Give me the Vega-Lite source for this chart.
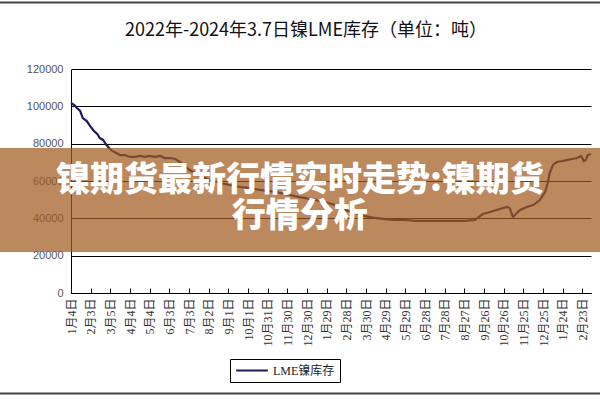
{
  "$schema": "https://vega.github.io/schema/vega-lite/v6.json",
  "width": 520,
  "height": 224,
  "autosize": "none",
  "padding": {"left": 71, "top": 69, "right": 9, "bottom": 107},
  "background": "white",
  "title": {"text": "2022年-2024年3.7日镍LME库存（单位：吨）", "font": "Noto Sans CJK SC", "fontSize": 18, "fontWeight": "normal", "color": "#111111", "anchor": "middle", "frame": "group", "offset": -38, "dx": -25},
  "config": {"view": {"stroke": null}},
  "datasets": {
    "stock": [
      {"date": "2022-01-04", "value": 101800},
      {"date": "2022-01-09", "value": 100700},
      {"date": "2022-01-13", "value": 99100},
      {"date": "2022-01-18", "value": 97500},
      {"date": "2022-01-22", "value": 93700},
      {"date": "2022-01-28", "value": 92100},
      {"date": "2022-02-02", "value": 89500},
      {"date": "2022-02-08", "value": 86800},
      {"date": "2022-02-13", "value": 85200},
      {"date": "2022-02-17", "value": 83000},
      {"date": "2022-02-22", "value": 82000},
      {"date": "2022-02-26", "value": 79800},
      {"date": "2022-03-03", "value": 77700},
      {"date": "2022-03-08", "value": 76100},
      {"date": "2022-03-14", "value": 75000},
      {"date": "2022-03-20", "value": 73900},
      {"date": "2022-03-27", "value": 73900},
      {"date": "2022-04-04", "value": 72900},
      {"date": "2022-04-12", "value": 72900},
      {"date": "2022-04-19", "value": 73400},
      {"date": "2022-04-27", "value": 72900},
      {"date": "2022-05-04", "value": 73400},
      {"date": "2022-05-12", "value": 72900},
      {"date": "2022-05-20", "value": 73400},
      {"date": "2022-05-27", "value": 72300},
      {"date": "2022-06-04", "value": 72300},
      {"date": "2022-06-12", "value": 71800},
      {"date": "2022-06-19", "value": 70200},
      {"date": "2022-06-27", "value": 68000},
      {"date": "2022-07-04", "value": 65900},
      {"date": "2022-07-12", "value": 64300},
      {"date": "2022-07-20", "value": 62700},
      {"date": "2022-08-04", "value": 60500},
      {"date": "2022-08-19", "value": 58900},
      {"date": "2022-09-03", "value": 57900},
      {"date": "2022-09-19", "value": 56800},
      {"date": "2022-10-04", "value": 56200},
      {"date": "2022-10-19", "value": 55200},
      {"date": "2022-11-03", "value": 54600},
      {"date": "2022-11-19", "value": 53600},
      {"date": "2022-12-04", "value": 52500},
      {"date": "2022-12-19", "value": 51400},
      {"date": "2023-01-03", "value": 50400},
      {"date": "2023-01-19", "value": 49300},
      {"date": "2023-01-29", "value": 48500},
      {"date": "2023-02-11", "value": 47100},
      {"date": "2023-02-26", "value": 44500},
      {"date": "2023-03-13", "value": 42900},
      {"date": "2023-03-28", "value": 41200},
      {"date": "2023-04-13", "value": 40200},
      {"date": "2023-04-28", "value": 39600},
      {"date": "2023-05-13", "value": 39100},
      {"date": "2023-05-28", "value": 39100},
      {"date": "2023-06-13", "value": 38600},
      {"date": "2023-06-28", "value": 38600},
      {"date": "2023-07-13", "value": 38600},
      {"date": "2023-07-28", "value": 38600},
      {"date": "2023-08-13", "value": 38600},
      {"date": "2023-08-28", "value": 38600},
      {"date": "2023-09-12", "value": 39100},
      {"date": "2023-09-24", "value": 42300},
      {"date": "2023-10-05", "value": 43400},
      {"date": "2023-10-20", "value": 45000},
      {"date": "2023-10-31", "value": 46100},
      {"date": "2023-11-04", "value": 45500},
      {"date": "2023-11-09", "value": 40700},
      {"date": "2023-11-15", "value": 42900},
      {"date": "2023-11-20", "value": 44500},
      {"date": "2023-11-30", "value": 46100},
      {"date": "2023-12-10", "value": 47100},
      {"date": "2023-12-20", "value": 49800},
      {"date": "2023-12-28", "value": 54100},
      {"date": "2024-01-01", "value": 58900},
      {"date": "2024-01-04", "value": 64300},
      {"date": "2024-01-09", "value": 68600},
      {"date": "2024-01-15", "value": 70200},
      {"date": "2024-01-23", "value": 70700},
      {"date": "2024-01-30", "value": 71200},
      {"date": "2024-02-07", "value": 71800},
      {"date": "2024-02-15", "value": 72300},
      {"date": "2024-02-21", "value": 73400},
      {"date": "2024-02-25", "value": 70700},
      {"date": "2024-02-28", "value": 71200},
      {"date": "2024-03-02", "value": 73900},
      {"date": "2024-03-07", "value": 74500}
    ],
    "band": [{"date": "2021-08-01", "date2": "2024-05-01", "value": 21960, "value2": 77700}],
    "frame": [{"date": "2021-08-01", "date2": "2024-05-01", "value": 155600}, {"date": "2021-08-01", "date2": "2024-05-01", "value": -53800}],
    "banner": [{"date": "2022-12-19", "value": 60000}]
  },
  "encoding": {
    "x": {
      "field": "date", "type": "temporal",
      "scale": {"type": "utc", "domain": [{"year": 2022, "month": 1, "date": 4, "utc": true}, {"year": 2024, "month": 3, "date": 7, "utc": true}]},
      "axis": {
        "title": null,
        "values": [
          {"year": 2022, "month": 1, "date": 4, "utc": true},
          {"year": 2022, "month": 2, "date": 3, "utc": true},
          {"year": 2022, "month": 3, "date": 5, "utc": true},
          {"year": 2022, "month": 4, "date": 4, "utc": true},
          {"year": 2022, "month": 5, "date": 4, "utc": true},
          {"year": 2022, "month": 6, "date": 3, "utc": true},
          {"year": 2022, "month": 7, "date": 3, "utc": true},
          {"year": 2022, "month": 8, "date": 2, "utc": true},
          {"year": 2022, "month": 9, "date": 1, "utc": true},
          {"year": 2022, "month": 10, "date": 1, "utc": true},
          {"year": 2022, "month": 10, "date": 31, "utc": true},
          {"year": 2022, "month": 11, "date": 30, "utc": true},
          {"year": 2022, "month": 12, "date": 30, "utc": true},
          {"year": 2023, "month": 1, "date": 29, "utc": true},
          {"year": 2023, "month": 2, "date": 28, "utc": true},
          {"year": 2023, "month": 3, "date": 30, "utc": true},
          {"year": 2023, "month": 4, "date": 29, "utc": true},
          {"year": 2023, "month": 5, "date": 29, "utc": true},
          {"year": 2023, "month": 6, "date": 28, "utc": true},
          {"year": 2023, "month": 7, "date": 28, "utc": true},
          {"year": 2023, "month": 8, "date": 27, "utc": true},
          {"year": 2023, "month": 9, "date": 26, "utc": true},
          {"year": 2023, "month": 10, "date": 26, "utc": true},
          {"year": 2023, "month": 11, "date": 25, "utc": true},
          {"year": 2023, "month": 12, "date": 25, "utc": true},
          {"year": 2024, "month": 1, "date": 24, "utc": true},
          {"year": 2024, "month": 2, "date": 23, "utc": true}
        ],
        "labelExpr": "utcFormat(datum.value, '%-m月%-d日')",
        "labelAngle": 270,
        "labelFont": "Liberation Serif, Noto Sans CJK SC",
        "labelFontSize": 12,
        "labelColor": "#333333",
        "tickSize": -5,
        "tickColor": "black",
        "domainColor": "black",
        "grid": false,
        "labelPadding": 10,
        "labelOverlap": false,
        "labelBound": false,
        "labelFlush": false
      }
    },
    "y": {
      "field": "value", "type": "quantitative",
      "scale": {"domain": [0, 120000], "nice": false},
      "axis": {
        "title": null,
        "values": [0, 20000, 40000, 60000, 80000, 100000, 120000],
        "format": "d",
        "labelFont": "Liberation Sans",
        "labelFontSize": 11,
        "labelColor": "#555555",
        "labelOverlap": false,
        "ticks": false,
        "labelPadding": 8,
        "grid": true,
        "gridColor": "black",
        "gridOpacity": 1,
        "gridWidth": 1,
        "domainColor": "black"
      }
    }
  },
  "layer": [
    {
      "data": {"name": "stock"},
      "mark": {"type": "line", "strokeWidth": 2.2},
      "encoding": {
        "color": {
          "datum": "LME镍库存", "type": "nominal",
          "scale": {"range": ["#1b1b5e"]},
          "legend": {
            "title": null, "orient": "none", "legendX": 159, "legendY": 290,
            "symbolType": "stroke", "symbolSize": 1000, "symbolStrokeWidth": 2, "clipHeight": 13,
            "labelFont": "Liberation Serif, Noto Sans CJK SC", "labelFontSize": 12, "labelColor": "#222222",
            "strokeColor": "black", "padding": 5
          }
        }
      }
    },
    {
      "data": {"name": "band"},
      "mark": {"type": "rect", "fill": "#a25a1e", "opacity": 0.72},
      "encoding": {
        "x2": {"field": "date2"},
        "y2": {"field": "value2"}
      }
    },
    {
      "data": {"name": "frame"},
      "mark": {"type": "rule", "color": "#444444", "strokeWidth": 2},
      "encoding": {
        "x2": {"field": "date2"}
      }
    },
    {
      "data": {"name": "banner"},
      "mark": {"type": "text", "color": "white", "font": "Noto Sans CJK SC", "fontWeight": 900, "fontSize": 34, "lineHeight": 36, "align": "center", "baseline": "middle"},
      "encoding": {
        "text": {"value": ["镍期货最新行情实时走势:镍期货", "行情分析"]}
      }
    }
  ]
}
